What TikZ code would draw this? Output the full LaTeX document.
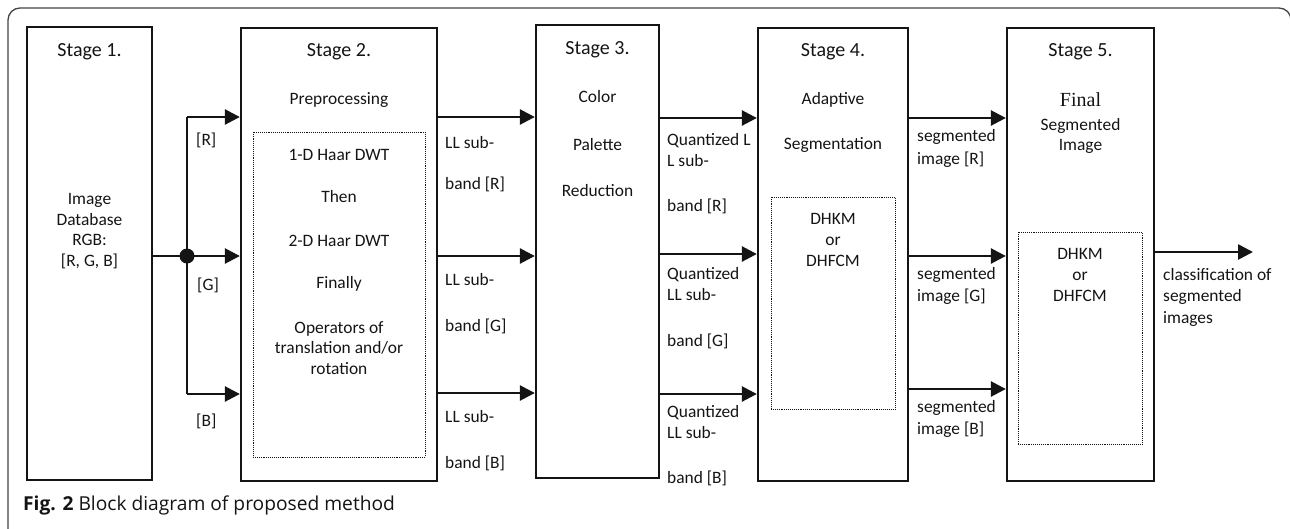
\documentclass[tikz,border=0pt]{standalone}
\usepackage{fontspec}
\setmainfont{Carlito}
\newfontfamily\capfont{Open Sans}
\newfontfamily\serifont{Liberation Serif}
\usetikzlibrary{arrows.meta}
\definecolor{ink}{HTML}{141414}
\definecolor{framec}{HTML}{444444}
\tikzset{
  stagebox/.style={draw=ink, line width=2.3pt, rectangle, inner sep=0pt},
  inbox/.style={draw=ink, line width=0.9pt, densely dotted, rectangle, inner sep=0pt},
  arr/.style={draw=ink, line width=2.6pt, -{Triangle[length=15pt,width=15pt]}},
  plain/.style={draw=ink, line width=2.6pt},
  txt/.style={font=\fontsize{17.4}{20.8}\selectfont, inner sep=0pt, align=center, text=ink},
  ttl/.style={font=\fontsize{20}{23}\selectfont, inner sep=0pt, text=ink},
  lbl/.style={txt, anchor=west, align=left},
}
\begin{document}
\begin{tikzpicture}[x=1pt,y=-1pt]
\useasboundingbox (0,0) rectangle (1290,528);
% outer frame
\draw[framec, line width=1.3pt, rounded corners=12pt] (8,530) -- (8,8) -- (1291,8) -- (1291,530);

% stage boxes
\node[stagebox, minimum width=125pt, minimum height=453pt] (s1) at (89.5,253.5) {};
\node[stagebox, minimum width=196pt, minimum height=453pt] (s2) at (339,254.5) {};
\node[stagebox, minimum width=123pt, minimum height=453pt] (s3) at (597.5,251.5) {};
\node[stagebox, minimum width=150pt, minimum height=453pt] (s4) at (833,254.5) {};
\node[stagebox, minimum width=147pt, minimum height=453pt] (s5) at (1080.5,254.5) {};

% inner dotted boxes
\node[inbox, minimum width=172pt, minimum height=325pt] (i2) at (339,294.5) {};
\node[inbox, minimum width=124pt, minimum height=212pt] (i4) at (833,303) {};
\node[inbox, minimum width=124pt, minimum height=212pt] (i5) at (1080,338) {};

% stage texts
\node[ttl] (t1) at (89.5,52) {Stage 1.};
\node[txt] (d1) at (89.5,231) {Image\\Database\\RGB:\\{[R, G, B]}};

\node[ttl] (t2) at (339,52) {Stage 2.};
\node[txt] (p2) at (339,100) {Preprocessing};
\node[txt] (a2) at (339,155) {1-D Haar DWT};
\node[txt] (b2) at (339,197) {Then};
\node[txt] (c2) at (339,241) {2-D Haar DWT};
\node[txt] (e2) at (339,284) {Finally};
\node[txt] (f2) at (339,348) {Operators of\\translation and/or\\rotation};

\node[ttl] (t3) at (597.5,50) {Stage 3.};
\node[txt] (a3) at (597.5,97) {Color};
\node[txt] (b3) at (597.5,145) {Palette};
\node[txt] (c3) at (597.5,191) {Reduction};

\node[ttl] (t4) at (833,52) {Stage 4.};
\node[txt] (a4) at (833,100) {Adaptive};
\node[txt] (b4) at (833,145) {Segmentation};
\node[txt] (c4) at (833,240) {DHKM\\or\\DHFCM};

\node[ttl] (t5) at (1080.5,52) {Stage 5.};
\node[txt, font=\serifont\fontsize{20}{22}\selectfont] (a5) at (1080.5,100) {Final};
\node[txt] (b5) at (1080.5,136) {Segmented\\Image};
\node[txt] (c5) at (1080,275) {DHKM\\or\\DHFCM};

% split from stage 1
\coordinate (dot) at (187,256);
\coordinate (rt) at (187,117);
\coordinate (bt) at (187,394);
\draw[plain] (s1.east |- dot) -- (dot);
\draw[plain] (rt) -- (bt);
\draw[arr] (rt) -- (rt -| s2.west);
\draw[arr] (dot) -- (dot -| s2.west);
\draw[arr] (bt) -- (bt -| s2.west);
\fill[ink] (dot) circle (7.5pt);
\node[lbl] (lr) at (196,140) {[R]};
\node[lbl] (lg) at (197,285) {[G]};
\node[lbl] (lb) at (196,421) {[B]};

% stage 2 -> 3
\coordinate (r23) at (0,117);
\coordinate (g23) at (0,256);
\coordinate (b23) at (0,393);
\draw[arr] (s2.east |- r23) -- (s3.west |- r23);
\draw[arr] (s2.east |- g23) -- (s3.west |- g23);
\draw[arr] (s2.east |- b23) -- (s3.west |- b23);
\node[lbl] at (445,143) {LL sub-};
\node[lbl] at (445,184) {band [R]};
\node[lbl] at (445,280) {LL sub-};
\node[lbl] at (445,326) {band [G]};
\node[lbl] at (445,417) {LL sub-};
\node[lbl] at (445,463) {band [B]};

% stage 3 -> 4
\coordinate (r34) at (0,118);
\coordinate (g34) at (0,254);
\coordinate (b34) at (0,394);
\draw[arr] (s3.east |- r34) -- (s4.west |- r34);
\draw[arr] (s3.east |- g34) -- (s4.west |- g34);
\draw[arr] (s3.east |- b34) -- (s4.west |- b34);
\node[lbl] at (667,150) {Quantized L\\L sub-};
\node[lbl] at (667,206) {band [R]};
\node[lbl] at (667,284) {Quantized\\LL sub-};
\node[lbl] at (667,341) {band [G]};
\node[lbl] at (667,422) {Quantized\\LL sub-};
\node[lbl] at (667,478) {band [B]};

% stage 4 -> 5
\coordinate (r45) at (0,118);
\coordinate (g45) at (0,256);
\coordinate (b45) at (0,389);
\draw[arr] (s4.east |- r45) -- (s5.west |- r45);
\draw[arr] (s4.east |- g45) -- (s5.west |- g45);
\draw[arr] (s4.east |- b45) -- (s5.west |- b45);
\node[lbl, font=\fontsize{17.4}{22.5}\selectfont] at (917,148.5) {segmented\\image [R]};
\node[lbl, font=\fontsize{17.4}{22.5}\selectfont] at (917,286) {segmented\\image [G]};
\node[lbl, font=\fontsize{17.4}{22.5}\selectfont] at (917,419) {segmented\\image [B]};

% output
\coordinate (out) at (1253,252);
\draw[arr] (s5.east |- out) -- (out);
\node[lbl, font=\fontsize{17.4}{21.5}\selectfont] (cls) at (1163,297) {classification of\\segmented\\images};

% caption
\node[anchor=west, inner sep=0pt, text=ink, font=\capfont\fontsize{19.2}{23}\selectfont] (cap) at (23,505) {\textbf{Fig. 2} Block diagram of proposed method};
\end{tikzpicture}
\end{document}
